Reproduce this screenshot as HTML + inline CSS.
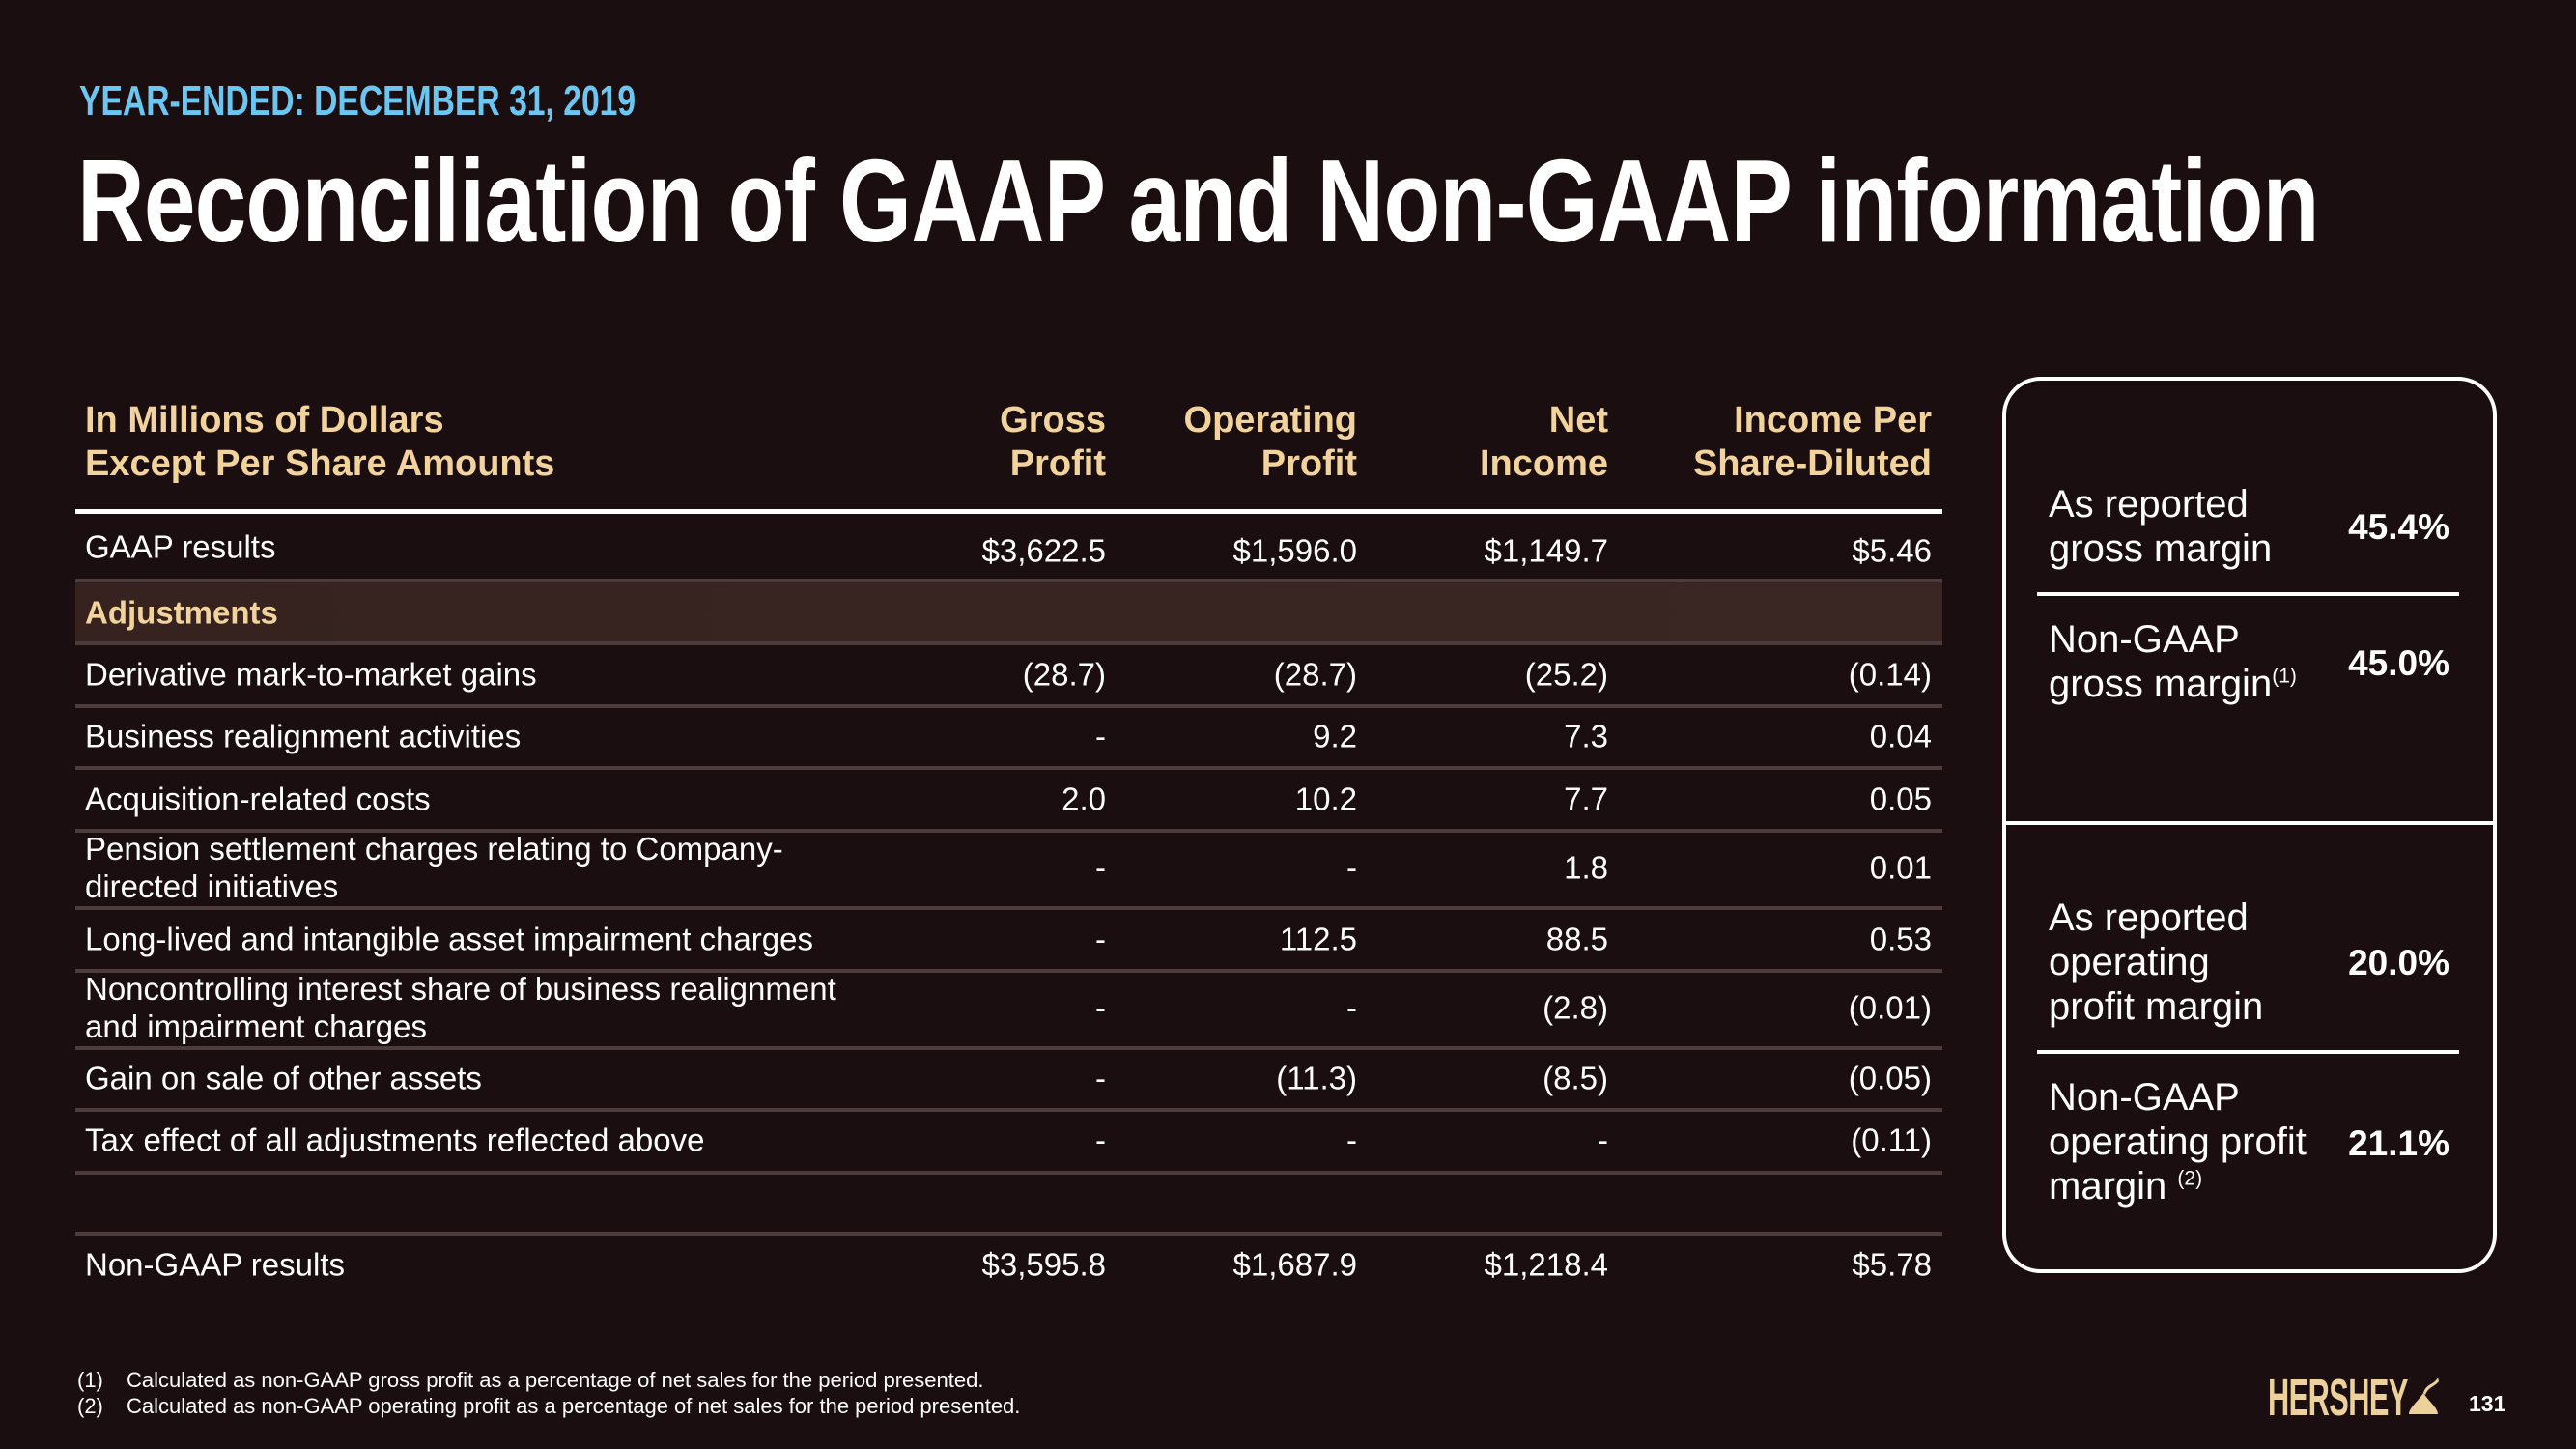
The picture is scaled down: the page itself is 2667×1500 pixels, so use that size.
<!DOCTYPE html>
<html><head><meta charset="utf-8"><style>
*{margin:0;padding:0;box-sizing:border-box}
body{width:2667px;height:1500px;background:#1b0e10;position:relative;overflow:hidden;font-family:"Liberation Sans",sans-serif;color:#fff}
.a{position:absolute;white-space:nowrap}
sup{line-height:0;vertical-align:super}
.yr{left:82px;top:80px;font-weight:bold;font-size:44px;color:#6cc6f2;transform:scaleX(0.765);transform-origin:left}
.ti{left:80px;top:138px;font-weight:bold;font-size:122px;letter-spacing:-1px;transform:scaleX(0.79);transform-origin:left;color:#fff}
.hd{font-weight:bold;font-size:38px;color:#f2d39c;line-height:45px}
.r{text-align:right}
.c{font-size:33px;line-height:39px;transform:translateY(-50%)}
.ln{position:absolute;left:78px;width:1933px;height:4px;background:#4d3c3c}
.box{position:absolute;left:2073px;top:390px;width:512px;height:928px;border:4px solid #fff;border-radius:40px}
.bt{font-size:40px;line-height:46px;color:#fff;transform:translateY(-50%)}
.bv{font-size:37px;font-weight:bold;transform:translateY(-50%);right:131px}
.fn{font-size:22px;color:#fff}
</style></head><body>
<div class="a yr">YEAR-ENDED: DECEMBER 31, 2019</div>
<div class="a ti">Reconciliation of GAAP and Non-GAAP information</div>

<div class="a hd" style="left:88px;top:413px">In Millions of Dollars<br>Except Per Share Amounts</div>
<div class="a hd r" style="right:1522px;top:413px">Gross<br>Profit</div>
<div class="a hd r" style="right:1262px;top:413px">Operating<br>Profit</div>
<div class="a hd r" style="right:1002px;top:413px">Net<br>Income</div>
<div class="a hd r" style="right:667px;top:413px">Income Per<br>Share-Diluted</div>

<div class="ln" style="top:527px;height:5px;background:#fff"></div>
<div class="a" style="left:78px;top:602px;width:1933px;height:63px;background:linear-gradient(90deg,#36231f,#3a2622)"></div>
<div class="a hd" style="left:88px;top:634px;transform:translateY(-50%);font-size:33px">Adjustments</div>

<div class="ln" style="top:599px"></div>
<div class="ln" style="top:664px"></div>
<div class="ln" style="top:729px"></div>
<div class="ln" style="top:793px"></div>
<div class="ln" style="top:858px"></div>
<div class="ln" style="top:938px"></div>
<div class="ln" style="top:1003px"></div>
<div class="ln" style="top:1083px"></div>
<div class="ln" style="top:1147px"></div>
<div class="ln" style="top:1212px"></div>
<div class="ln" style="top:1275px"></div>

<div class="a c" style="left:88px;top:566px">GAAP results</div>
<div class="a c" style="right:1522px;top:570px">$3,622.5</div>
<div class="a c" style="right:1262px;top:570px">$1,596.0</div>
<div class="a c" style="right:1002px;top:570px">$1,149.7</div>
<div class="a c" style="right:667px;top:570px">$5.46</div>

<div class="a c" style="left:88px;top:698px">Derivative mark-to-market gains</div>
<div class="a c" style="right:1522px;top:698px">(28.7)</div>
<div class="a c" style="right:1262px;top:698px">(28.7)</div>
<div class="a c" style="right:1002px;top:698px">(25.2)</div>
<div class="a c" style="right:667px;top:698px">(0.14)</div>

<div class="a c" style="left:88px;top:762px">Business realignment activities</div>
<div class="a c" style="right:1522px;top:762px">-</div>
<div class="a c" style="right:1262px;top:762px">9.2</div>
<div class="a c" style="right:1002px;top:762px">7.3</div>
<div class="a c" style="right:667px;top:762px">0.04</div>

<div class="a c" style="left:88px;top:827px">Acquisition-related costs</div>
<div class="a c" style="right:1522px;top:827px">2.0</div>
<div class="a c" style="right:1262px;top:827px">10.2</div>
<div class="a c" style="right:1002px;top:827px">7.7</div>
<div class="a c" style="right:667px;top:827px">0.05</div>

<div class="a c" style="left:88px;top:898px">Pension settlement charges relating to Company-<br>directed initiatives</div>
<div class="a c" style="right:1522px;top:898px">-</div>
<div class="a c" style="right:1262px;top:898px">-</div>
<div class="a c" style="right:1002px;top:898px">1.8</div>
<div class="a c" style="right:667px;top:898px">0.01</div>

<div class="a c" style="left:88px;top:972px">Long-lived and intangible asset impairment charges</div>
<div class="a c" style="right:1522px;top:972px">-</div>
<div class="a c" style="right:1262px;top:972px">112.5</div>
<div class="a c" style="right:1002px;top:972px">88.5</div>
<div class="a c" style="right:667px;top:972px">0.53</div>

<div class="a c" style="left:88px;top:1043px">Noncontrolling interest share of business realignment<br>and impairment charges</div>
<div class="a c" style="right:1522px;top:1043px">-</div>
<div class="a c" style="right:1262px;top:1043px">-</div>
<div class="a c" style="right:1002px;top:1043px">(2.8)</div>
<div class="a c" style="right:667px;top:1043px">(0.01)</div>

<div class="a c" style="left:88px;top:1116px">Gain on sale of other assets</div>
<div class="a c" style="right:1522px;top:1116px">-</div>
<div class="a c" style="right:1262px;top:1116px">(11.3)</div>
<div class="a c" style="right:1002px;top:1116px">(8.5)</div>
<div class="a c" style="right:667px;top:1116px">(0.05)</div>

<div class="a c" style="left:88px;top:1180px">Tax effect of all adjustments reflected above</div>
<div class="a c" style="right:1522px;top:1180px">-</div>
<div class="a c" style="right:1262px;top:1180px">-</div>
<div class="a c" style="right:1002px;top:1180px">-</div>
<div class="a c" style="right:667px;top:1180px">(0.11)</div>

<div class="a c" style="left:88px;top:1309px">Non-GAAP results</div>
<div class="a c" style="right:1522px;top:1309px">$3,595.8</div>
<div class="a c" style="right:1262px;top:1309px">$1,687.9</div>
<div class="a c" style="right:1002px;top:1309px">$1,218.4</div>
<div class="a c" style="right:667px;top:1309px">$5.78</div>

<div class="box"></div>
<div class="a" style="left:2073px;top:850px;width:512px;height:4px;background:#fff"></div>
<div class="a" style="left:2109px;top:613px;width:437px;height:4px;background:#fff"></div>
<div class="a" style="left:2109px;top:1087px;width:437px;height:4px;background:#fff"></div>

<div class="a bt" style="left:2121px;top:545px">As reported<br>gross margin</div>
<div class="a bv" style="top:546px">45.4%</div>
<div class="a bt" style="left:2121px;top:685px">Non-GAAP<br>gross margin<sup style="font-size:21px">(1)</sup></div>
<div class="a bv" style="top:687px">45.0%</div>
<div class="a bt" style="left:2121px;top:996px">As reported<br>operating<br>profit margin</div>
<div class="a bv" style="top:997px">20.0%</div>
<div class="a bt" style="left:2121px;top:1182px">Non-GAAP<br>operating profit<br>margin <sup style="font-size:21px">(2)</sup></div>
<div class="a bv" style="top:1184px">21.1%</div>

<div class="a fn" style="left:80px;top:1416px">(1)</div>
<div class="a fn" style="left:131px;top:1416px">Calculated as non-GAAP gross profit as a percentage of net sales for the period presented.</div>
<div class="a fn" style="left:80px;top:1443px">(2)</div>
<div class="a fn" style="left:131px;top:1443px">Calculated as non-GAAP operating profit as a percentage of net sales for the period presented.</div>

<div class="a" style="left:2348px;top:1420px;font-weight:bold;font-size:54px;line-height:54px;color:#ecd19a;transform:scaleX(0.57);transform-origin:left;letter-spacing:-1px">HERSHEY</div>
<svg class="a" style="left:2492px;top:1422px" width="34" height="48" viewBox="0 0 34 48"><path d="M17 20 C10 30 2 36 2 42 L32 42 C32 36 24 30 17 20Z" fill="#ecd19a"/><path d="M17 20 C20 10 28 12 32 4 L33 8 C28 14 22 14 19 22Z" fill="#ecd19a"/></svg>
<div class="a" style="left:2556px;top:1440px;font-size:23px;font-weight:bold">131</div>
</body></html>
